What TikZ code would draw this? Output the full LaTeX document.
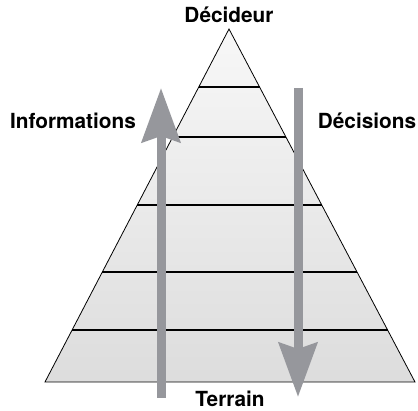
\documentclass[tikz,border=0pt]{standalone}
\usepackage{fontspec}
\setmainfont{TeX Gyre Heros}
\usetikzlibrary{calc,arrows.meta}
\definecolor{flechegris}{RGB}{150,151,156}

\begin{document}
\begin{tikzpicture}[x=1pt, y=-1pt]
        \tikzset{etiquette/.style={font=\bfseries\fontsize{20.8}{25}\selectfont, inner sep=0pt},
                 fleche/.style={draw=flechegris, line width=9pt,
                     -{Stealth[length=54pt, width=38pt, inset=6pt]}}}
        \useasboundingbox (0, 0) rectangle (418, 411);

        \coordinate (S) at (229, 29);
        \coordinate (G) at (45, 382);
        \coordinate (D) at (415, 382);

        \shade[top color=gray!6, bottom color=gray!27, draw=black, line width=0.8pt]
            (S) -- (G) -- (D) -- cycle;
        \foreach \t in {0.164, 0.306, 0.499, 0.688, 0.853}
            \draw[line width=1.3pt] ($(S)!\t!(G)$) -- ($(S)!\t!(D)$);

        % fleches
        \coordinate (I0) at (161, 398);
        \coordinate (I1) at (161, 88);
        \coordinate (D0) at (298, 88);
        \coordinate (D1) at (298, 397);
        \draw[fleche] (I0) -- (I1);
        \draw[fleche] (D0) -- (D1);

        \node[etiquette] (decideur) at (229, 15) {Décideur};
        \node[etiquette] (terrain) at (230, 399) {Terrain};
        \node[etiquette] (informations) at (73, 121) {Informations};
        \node[etiquette] (decisions) at (367, 121) {Décisions};
    \end{tikzpicture}
\end{document}
